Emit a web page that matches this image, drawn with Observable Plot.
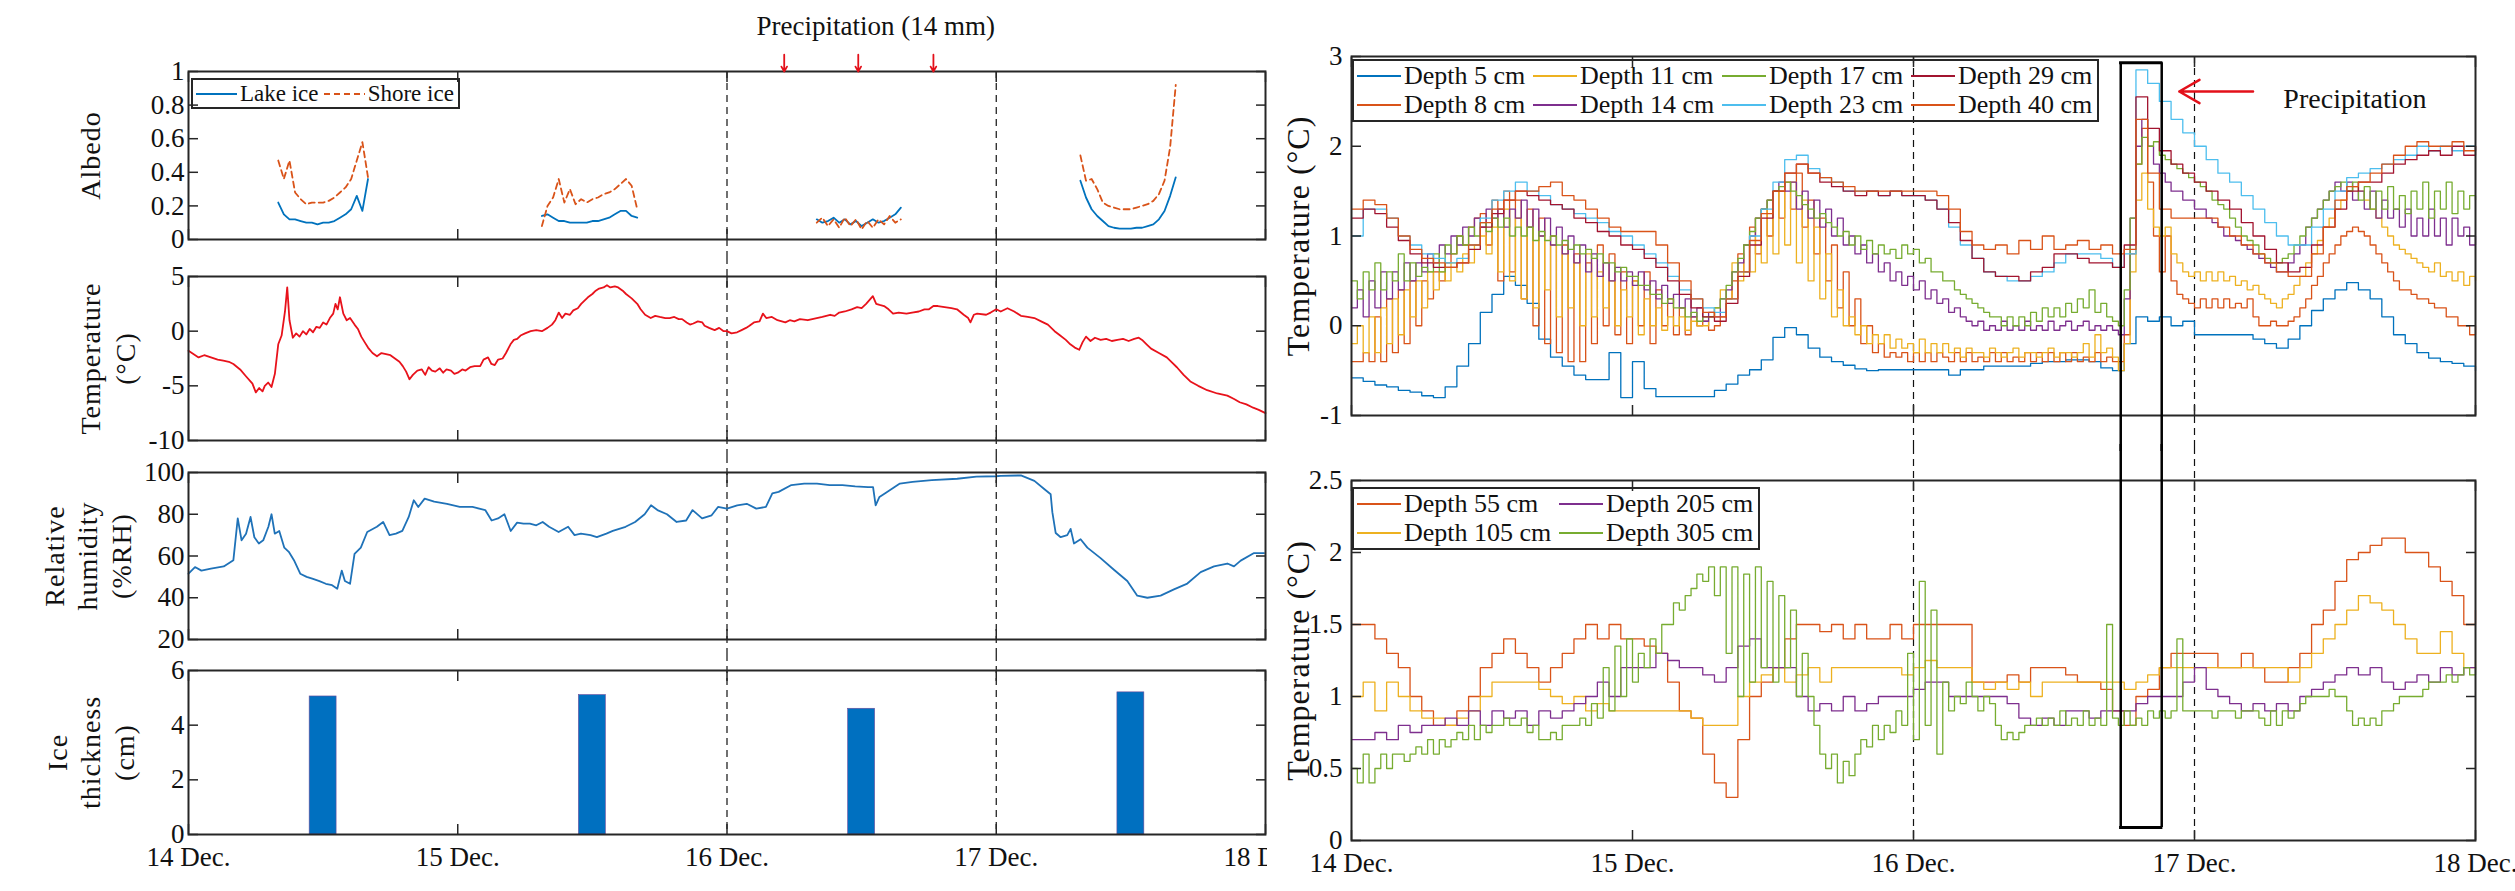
<!DOCTYPE html>
<html><head><meta charset="utf-8">
<script src="https://cdn.jsdelivr.net/npm/d3@7"></script>
<script src="https://cdn.jsdelivr.net/npm/@observablehq/plot@0.6"></script>
<style>
html,body{margin:0;padding:0;background:#fff;overflow:hidden;}
#fig{position:relative;width:2515px;height:891px;overflow:hidden;background:#fff;font-family:"Liberation Serif","Times New Roman",serif;color:#111;}
.legend{position:absolute;border:2px solid #262626;box-sizing:border-box;line-height:1;color:#111;}
.legend .item{display:flex;align-items:center;white-space:nowrap;}
.legend svg{margin-right:3px;flex:none;}
</style></head>
<body><div id="fig"></div>
<script>
// ---------------- shared axis data ----------------
const xTickHours = [0, 24, 48, 72, 96];
const xTickLabels = ["14 Dec.", "15 Dec.", "16 Dec.", "17 Dec.", "18 Dec."];
const dashHours = [48, 72];

// ---------------- left: albedo (half-hour samples per day) ----------------
const albedoStartHours = [8, 31.5, 56, 79.5];
const lakeIce = [
  [0.22,0.15,0.12,0.12,0.11,0.10,0.10,0.09,0.10,0.10,0.11,0.13,0.15,0.18,0.26,0.17,0.36],
  [0.14,0.15,0.13,0.11,0.11,0.10,0.10,0.10,0.10,0.11,0.11,0.12,0.13,0.15,0.17,0.17,0.14,0.13],
  [0.12,0.10,0.11,0.13,0.10,0.12,0.09,0.11,0.08,0.10,0.12,0.10,0.11,0.13,0.15,0.19],
  [0.35,0.25,0.18,0.14,0.11,0.08,0.07,0.065,0.065,0.065,0.07,0.07,0.08,0.09,0.12,0.17,0.26,0.37]
];
const shoreIce = [
  [0.47,0.36,0.47,0.28,0.24,0.21,0.22,0.22,0.22,0.23,0.25,0.28,0.31,0.36,0.47,0.58,0.37],
  [0.08,0.20,0.25,0.36,0.22,0.30,0.21,0.24,0.22,0.24,0.25,0.27,0.28,0.30,0.33,0.36,0.32,0.18],
  [0.10,0.13,0.08,0.12,0.07,0.13,0.08,0.12,0.06,0.11,0.07,0.12,0.09,0.14,0.10,0.12],
  [0.50,0.35,0.36,0.30,0.22,0.20,0.19,0.18,0.18,0.18,0.19,0.20,0.21,0.23,0.27,0.35,0.55,0.92]
];
const precipTotalLabel = "Precipitation (14 mm)";
const precipArrowHours = [53.1, 59.7, 66.4];

// ---------------- left: air temperature [hour, °C] ----------------
const airTemp = [
[0,-1.8],[0.9,-2.4],[1.4,-2.2],[2,-2.4],[2.6,-2.6],[3.1,-2.7],[3.6,-2.8],[4,-3.0],[4.6,-3.5],[5.1,-4.1],[5.7,-4.8],[6,-5.6],
[6.3,-5.2],[6.6,-5.5],[6.8,-5.0],[7.1,-4.7],[7.4,-5.1],[7.7,-3.9],[8,-1.2],[8.3,-0.4],[8.6,1.8],[8.8,4.0],[9.0,1.0],[9.3,-0.6],
[9.6,-0.2],[9.9,-0.5],[10.2,0.0],[10.5,-0.3],[10.8,0.2],[11.1,-0.1],[11.4,0.4],[11.7,0.3],[12.0,0.8],[12.3,0.6],[12.6,1.2],[12.9,1.6],
[13.1,2.5],[13.3,2.0],[13.5,3.1],[13.8,1.6],[14.1,1.0],[14.4,1.2],[14.8,0.6],[15.1,0.2],[15.4,-0.5],[15.7,-1.0],[16.0,-1.5],[16.4,-2.0],
[16.8,-2.3],[17.2,-2.0],[17.6,-2.1],[18.0,-2.2],[18.4,-2.5],[18.8,-2.8],[19.1,-3.2],[19.4,-3.7],[19.7,-4.4],[20.0,-4.0],[20.4,-3.6],[20.8,-3.5],
[21.1,-4.0],[21.4,-3.3],[21.7,-3.6],[22.0,-3.7],[22.4,-3.4],[22.7,-3.8],[23.0,-3.5],[23.4,-3.6],[23.7,-3.9],[24.0,-3.8],[24.4,-3.5],[24.7,-3.6],
[25.1,-3.3],[25.5,-3.2],[26.0,-3.2],[26.3,-2.6],[26.7,-2.4],[27.0,-3.0],[27.3,-3.1],[27.6,-2.6],[28.0,-2.5],[28.3,-2.0],[28.7,-1.2],[29.0,-0.8],
[29.3,-0.7],[29.6,-0.4],[30.0,-0.2],[30.5,0.0],[31.0,0.1],[31.5,0.0],[32.0,0.3],[32.4,0.6],[32.7,1.0],[33.0,1.7],[33.3,1.2],[33.6,1.6],
[34.0,1.5],[34.3,1.9],[34.7,2.1],[35.0,2.5],[35.3,2.8],[35.6,3.1],[36.0,3.4],[36.3,3.7],[36.6,3.9],[37.0,4.0],[37.3,4.2],[37.6,4.0],
[38.0,4.1],[38.3,4.0],[38.7,3.7],[39.0,3.4],[39.5,3.0],[40.0,2.5],[40.3,2.0],[40.7,1.5],[41.2,1.2],[41.6,1.4],[42.0,1.3],[42.5,1.2],
[42.9,1.2],[43.3,1.3],[43.7,1.1],[44.0,1.1],[44.4,0.8],[44.7,0.6],[45.0,0.7],[45.4,0.9],[45.8,0.8],[46.0,0.5],[46.4,0.3],[46.9,0.1],
[47.3,0.3],[47.7,0.0],[48.0,0.0],[48.4,-0.2],[48.9,-0.1],[49.3,0.1],[49.7,0.3],[50.0,0.5],[50.4,0.8],[50.9,0.9],[51.2,1.6],[51.5,1.2],
[52.0,1.3],[52.5,1.0],[53.2,0.8],[53.6,1.0],[54.0,0.9],[54.5,1.1],[55.2,1.0],[55.6,1.1],[56.0,1.2],[56.5,1.3],[57.2,1.5],[57.6,1.4],
[58.0,1.7],[58.5,1.8],[59.1,2.0],[59.6,2.2],[60.0,2.1],[60.4,2.5],[61.0,3.2],[61.3,2.5],[61.6,2.4],[62.0,2.3],[62.4,2.0],[62.8,1.6],
[63.3,1.7],[64.0,1.6],[64.5,1.7],[65.1,1.8],[65.6,2.0],[66.0,2.0],[66.4,2.3],[66.8,2.3],[67.4,2.2],[68.0,2.1],[68.5,2.0],[69.1,1.5],
[69.5,1.2],[69.7,0.8],[70.0,1.5],[70.3,1.6],[71.1,1.5],[71.5,1.7],[72.0,2.0],[72.4,1.8],[73.0,2.1],[73.6,1.8],[74.2,1.4],[74.8,1.3],
[75.4,1.2],[76.0,0.9],[76.6,0.6],[77.2,0.0],[77.7,-0.4],[78.2,-0.8],[78.6,-1.2],[79.0,-1.5],[79.4,-1.7],[79.7,-1.0],[80.0,-0.5],[80.4,-0.9],
[80.8,-0.6],[81.3,-0.8],[81.8,-0.7],[82.3,-0.9],[82.8,-0.8],[83.3,-0.7],[83.8,-0.9],[84.3,-0.7],[84.7,-0.6],[85.0,-0.8],[85.4,-1.2],[85.8,-1.6],
[86.5,-2.0],[87.2,-2.4],[87.7,-2.9],[88.1,-3.3],[88.7,-4.0],[89.3,-4.6],[90.0,-5.0],[90.8,-5.4],[91.7,-5.7],[92.6,-5.9],[93.2,-6.2],[93.7,-6.5],
[94.3,-6.7],[94.9,-7.0],[95.4,-7.2],[96.0,-7.5]
];

// ---------------- left: relative humidity [hour, %RH] ----------------
const relHumidity = [
[0,51.5],[0.58,54.7],[1.15,53],[2.0,54],[3.14,55],[4.0,58],[4.39,78],[4.73,67.5],[5.13,70.7],[5.53,78.7],[5.87,69],[6.27,66],
[6.66,67.5],[7.12,74],[7.40,80],[7.69,70.7],[8.09,72],[8.54,64],[8.94,62],[9.40,58],[9.96,51.5],[10.53,50],[11.1,49],[11.67,48],
[12.24,46.7],[12.8,46],[13.26,44.3],[13.66,53],[13.94,48],[14.4,46.7],[14.8,61],[15.36,64],[15.93,71.5],[16.79,74],[17.35,76.3],[17.92,70],
[18.49,70.7],[19.06,72],[19.63,78.7],[20.08,86.7],[20.48,83.5],[21.05,87.5],[21.9,86],[23.04,85],[24.18,83.5],[25.31,83.5],[26.45,82],[27.02,77],
[27.59,78],[28.16,80],[28.72,72],[29.29,76],[29.86,75.5],[30.43,75.5],[31.0,74.7],[31.57,76.3],[32.14,74],[32.99,71.5],[33.84,74],[34.41,70],
[34.98,70.7],[35.83,70],[36.4,69],[37.25,70.7],[37.82,72],[38.96,74],[39.81,76.3],[40.66,80],[41.23,84.3],[41.8,82],[42.65,80],[43.51,76.3],
[44.36,77],[44.93,82],[45.78,78],[46.63,79.5],[47.2,83.5],[48.0,82.7],[48.91,84.3],[49.76,85],[50.61,82.7],[51.47,83.5],[52.04,90],[52.6,90.7],
[53.74,94],[54.88,94.7],[56.02,94.7],[57.15,94],[58.29,94],[59.43,93.4],[60.57,93],[61.02,93],[61.25,84.3],[61.59,88.3],[62.27,90.7],[63.41,94.7],
[64.54,95.5],[66.25,96.3],[68.52,97],[70.23,98],[71.99,98.2],[72.39,98.4],[74.2,98.6],[75.4,96],[76.3,92],[76.85,89.6],[77.0,81],[77.3,71],
[77.74,69],[78.33,70],[78.63,73],[78.93,66],[79.52,68],[80.12,64],[81.3,59],[82.49,53.4],[83.68,48],[84.57,41],[85.47,40],[86.65,41],
[87.84,44],[89.03,46.8],[90.22,52.3],[91.41,55],[92.6,56.4],[93.19,55],[93.79,57.8],[94.98,61.4],[95.87,61.4]
];

// ---------------- left: ice thickness ----------------
const iceHours = [12, 36, 60, 84];
const iceThickness = [5.05, 5.1, 4.6, 5.2];

// ---------------- right top: ice/water temperatures ----------------
const depthTopLabels = ["Depth 5 cm","Depth 8 cm","Depth 11 cm","Depth 14 cm","Depth 17 cm","Depth 23 cm","Depth 29 cm","Depth 40 cm"];
const depthTopColors = ["#0072BD","#D95319","#EDB120","#7E2F8E","#77AC30","#4DBEEE","#A2142F","#D95319"];
const depthTopStepHours = [1, 0.5, 0.5, 0.5, 0.5, 1, 1, 1];
const depth5 = [
-0.58,-0.62,-0.66,-0.68,-0.72,-0.74,-0.78,-0.8,-0.68,-0.45,-0.2,0.15,
0.35,0.55,0.45,0.25,-0.15,-0.35,-0.45,-0.55,-0.6,-0.6,-0.3,-0.8,
-0.4,-0.7,-0.79,-0.79,-0.79,-0.79,-0.79,-0.72,-0.65,-0.55,-0.49,-0.38,
-0.13,-0.02,-0.1,-0.25,-0.35,-0.4,-0.44,-0.48,-0.5,-0.49,-0.49,-0.49,
-0.49,-0.49,-0.49,-0.55,-0.49,-0.49,-0.45,-0.45,-0.45,-0.45,-0.42,-0.4,
-0.4,-0.38,-0.38,-0.4,-0.47,-0.5,-0.2,0.1,0.05,0.1,0.0,0.05,
-0.1,-0.1,-0.1,-0.1,-0.1,-0.15,-0.2,-0.25,-0.15,0.0,0.17,0.3,
0.4,0.48,0.4,0.3,0.1,-0.1,-0.2,-0.3,-0.36,-0.4,-0.42,-0.45,
-0.5];
const depth8 = [
-0.4,-0.4,-0.3,-0.4,0.1,-0.4,0.3,-0.3,0.4,-0.2,0.5,0.0,0.5,0.3,0.6,0.5,0.7,0.8,1.0,0.9,1.1,1.2,1.25,0.9,
1.4,0.5,1.5,0.6,1.4,0.3,1.3,0.0,1.2,-0.2,1.0,-0.3,0.9,-0.4,0.8,-0.4,0.7,-0.2,0.9,0.0,0.8,-0.1,0.6,-0.2,
0.5,0.0,0.6,-0.2,0.4,0.0,0.3,-0.1,0.2,-0.1,0.1,0.0,0.05,-0.05,0.0,0.1,0.3,0.5,0.8,0.6,1.1,0.8,1.3,1.0,
1.5,1.2,1.6,1.3,1.7,1.1,1.4,0.8,1.2,0.5,0.9,0.2,0.6,0.0,0.3,-0.2,0.0,-0.3,-0.2,-0.35,-0.3,-0.35,-0.3,-0.4,
-0.3,-0.4,-0.3,-0.4,-0.3,-0.35,-0.4,-0.3,-0.4,-0.3,-0.4,-0.35,-0.4,-0.3,-0.4,-0.3,-0.4,-0.35,-0.4,-0.3,-0.4,-0.3,-0.4,-0.3,
-0.4,-0.3,-0.4,-0.3,-0.4,-0.35,-0.4,-0.3,-0.4,-0.35,-0.4,-0.4,-0.1,0.8,1.8,2.2,1.6,1.0,0.6,1.0,0.5,0.35,0.3,0.25,
0.2,0.3,0.2,0.3,0.2,0.3,0.2,0.25,0.2,0.3,0.1,0.0,0.0,0.05,0.0,0.0,0.05,0.1,0.2,0.3,0.45,0.55,0.7,0.8,
0.9,1.0,1.05,1.1,1.05,1.0,0.9,0.8,0.7,0.6,0.5,0.4,0.4,0.35,0.3,0.3,0.25,0.2,0.2,0.1,0.1,0.0,0.0,-0.1,
0.0];
const depth11 = [
-0.2,0.0,-0.3,0.1,-0.3,0.2,-0.2,0.3,-0.1,0.4,0.1,0.5,0.2,0.6,0.4,0.6,0.5,0.7,0.6,0.8,0.7,0.9,1.0,0.8,
1.1,0.6,1.3,0.5,1.2,0.3,1.1,0.2,1.0,0.4,0.9,0.1,0.8,0.2,0.7,0.0,0.8,0.1,0.6,0.2,0.5,0.0,0.4,0.1,
0.5,-0.1,0.3,0.0,0.2,-0.05,0.1,0.0,0.1,-0.05,0.05,0.0,0.0,0.1,0.2,0.4,0.3,0.7,0.5,0.9,0.6,1.2,0.7,1.4,
0.8,1.5,0.9,1.6,0.7,1.4,0.5,1.1,0.3,0.8,0.1,0.4,0.0,0.1,-0.1,0.0,-0.2,-0.1,-0.2,-0.1,-0.25,-0.15,-0.25,-0.2,
-0.3,-0.15,-0.3,-0.2,-0.3,-0.2,-0.3,-0.25,-0.35,-0.25,-0.3,-0.3,-0.35,-0.25,-0.3,-0.35,-0.3,-0.25,-0.35,-0.3,-0.3,-0.35,-0.3,-0.25,
-0.35,-0.3,-0.3,-0.35,-0.3,-0.2,-0.35,-0.1,-0.3,-0.25,-0.35,-0.5,-0.2,0.6,1.4,1.7,1.3,1.1,1.0,1.1,0.8,0.7,0.6,0.55,
0.6,0.5,0.6,0.5,0.6,0.5,0.55,0.45,0.5,0.4,0.45,0.35,0.3,0.25,0.2,0.3,0.35,0.45,0.55,0.7,0.8,0.95,1.1,1.2,
1.3,1.4,1.5,1.55,1.5,1.4,1.3,1.2,1.1,1.0,0.9,0.85,0.8,0.75,0.7,0.65,0.6,0.7,0.55,0.6,0.5,0.6,0.45,0.55,
0.5];
const depth14 = [
0.2,0.4,0.1,0.5,0.2,0.6,0.3,0.6,0.4,0.7,0.5,0.7,0.6,0.8,0.7,0.9,0.8,1.0,0.9,1.1,1.0,1.2,1.1,1.3,
1.2,1.3,1.1,1.3,1.2,1.4,1.1,1.3,1.0,1.2,0.9,1.1,0.8,1.0,0.7,0.9,0.6,0.8,0.55,0.7,0.5,0.65,0.5,0.6,
0.45,0.6,0.4,0.5,0.3,0.45,0.25,0.35,0.2,0.3,0.1,0.2,0.05,0.15,0.1,0.3,0.4,0.6,0.7,0.9,1.0,1.2,1.3,1.4,
1.5,1.6,1.5,1.6,1.3,1.5,1.2,1.4,1.1,1.3,1.0,1.2,0.9,1.0,0.8,0.9,0.7,0.8,0.6,0.7,0.5,0.6,0.45,0.55,
0.4,0.5,0.3,0.4,0.25,0.3,0.15,0.2,0.1,0.05,0.0,0.05,-0.05,0.0,-0.05,0.05,-0.05,0.0,-0.05,0.05,-0.05,0.0,-0.05,0.05,
-0.05,0.0,0.05,-0.05,0.0,0.05,-0.05,0.0,-0.05,0.0,-0.05,-0.1,0.3,1.2,2.0,2.3,2.0,1.8,1.7,1.6,1.5,1.5,1.4,1.4,
1.3,1.3,1.2,1.15,1.1,1.0,1.0,0.95,0.9,0.85,0.8,0.75,0.7,0.65,0.6,0.6,0.7,0.8,0.9,1.1,1.2,1.3,1.4,1.5,
1.6,1.5,1.6,1.4,1.5,1.3,1.5,1.2,1.4,1.2,1.3,1.1,1.3,1.0,1.2,1.0,1.3,1.0,1.2,0.9,1.2,1.0,1.1,0.9,
1.0];
const depth17 = [
0.5,0.3,0.6,0.4,0.7,0.4,0.6,0.5,0.8,0.5,0.7,0.55,0.65,0.6,0.8,0.6,0.9,0.8,1.0,0.9,1.1,1.0,1.15,1.05,
1.2,1.1,1.2,1.0,1.1,1.0,1.1,0.95,1.05,0.95,1.0,0.9,0.95,0.85,0.9,0.8,0.85,0.75,0.8,0.7,0.7,0.6,0.65,0.55,
0.55,0.45,0.45,0.35,0.35,0.25,0.3,0.2,0.2,0.1,0.15,0.05,0.1,0.1,0.2,0.3,0.45,0.6,0.75,0.9,1.05,1.2,1.3,1.4,
1.5,1.55,1.6,1.5,1.45,1.35,1.3,1.2,1.25,1.15,1.1,1.0,1.05,0.9,1.0,0.85,0.95,0.8,0.9,0.8,0.85,0.75,0.9,0.8,
0.85,0.7,0.75,0.6,0.6,0.5,0.5,0.4,0.35,0.3,0.25,0.2,0.15,0.1,0.1,0.0,0.1,0.0,0.1,0.0,0.15,0.05,0.2,0.1,
0.2,0.1,0.25,0.15,0.3,0.2,0.4,0.15,0.25,0.1,0.05,0.0,0.4,1.2,1.8,2.1,2.0,2.05,1.9,1.85,1.8,1.75,1.7,1.65,
1.6,1.55,1.5,1.4,1.35,1.3,1.2,1.1,1.0,0.95,0.9,0.8,0.75,0.7,0.7,0.75,0.8,0.9,1.0,1.1,1.2,1.3,1.4,1.5,
1.55,1.6,1.5,1.6,1.4,1.55,1.3,1.5,1.3,1.55,1.3,1.45,1.25,1.5,1.3,1.6,1.2,1.5,1.3,1.6,1.25,1.5,1.3,1.45,
1.4];
const depth23 = [
1.0,1.3,1.3,1.2,1.0,0.9,0.8,0.75,0.7,0.75,0.9,1.2,
1.4,1.5,1.6,1.5,1.45,1.35,1.3,1.25,1.2,1.15,1.05,1.0,
0.9,0.8,0.7,0.55,0.4,0.3,0.2,0.15,0.3,0.6,1.0,1.3,
1.6,1.85,1.9,1.75,1.65,1.6,1.5,1.5,1.5,1.45,1.5,1.45,
1.45,1.4,1.3,1.1,0.9,0.75,0.6,0.55,0.5,0.5,0.55,0.6,
0.7,0.8,0.8,0.8,0.75,0.65,0.8,2.85,2.7,2.5,2.3,2.15,
2.0,1.85,1.7,1.6,1.45,1.3,1.15,1.0,0.9,0.9,1.1,1.3,
1.5,1.65,1.7,1.75,1.8,1.85,1.9,2.0,1.95,2.0,1.95,2.0,
1.95];
const depth29 = [
1.2,1.3,1.25,1.1,0.95,0.8,0.7,0.65,0.65,0.7,0.85,1.1,
1.25,1.4,1.5,1.45,1.4,1.35,1.3,1.2,1.15,1.05,1.0,0.9,
0.85,0.75,0.65,0.5,0.35,0.2,0.1,0.05,0.25,0.55,0.9,1.2,
1.5,1.7,1.8,1.7,1.6,1.55,1.5,1.45,1.5,1.45,1.5,1.45,
1.45,1.4,1.3,1.15,0.95,0.75,0.6,0.55,0.55,0.5,0.6,0.65,
0.8,0.8,0.75,0.7,0.7,0.65,0.9,2.55,2.2,1.95,1.8,1.7,
1.6,1.5,1.4,1.3,1.15,1.0,0.85,0.7,0.6,0.65,0.9,1.1,
1.3,1.5,1.6,1.6,1.7,1.8,1.85,1.9,1.95,1.9,2.0,1.9,
2.0];
const depth40 = [
1.3,1.4,1.35,1.2,1.0,0.85,0.75,0.7,0.65,0.7,0.9,1.15,
1.3,1.4,1.5,1.5,1.55,1.6,1.45,1.4,1.3,1.2,1.1,1.05,
1.05,1.05,0.9,0.7,0.5,0.3,0.15,0.1,0.3,0.6,0.95,1.25,
1.5,1.7,1.8,1.7,1.65,1.6,1.55,1.5,1.5,1.5,1.5,1.5,
1.5,1.5,1.45,1.3,1.05,0.9,0.85,0.9,0.8,0.95,0.85,1.0,
0.85,0.9,0.95,0.85,0.9,0.8,0.85,2.3,1.7,1.3,1.2,1.2,
1.2,1.2,1.1,1.0,0.9,0.8,0.7,0.6,0.55,0.55,0.8,1.1,
1.4,1.55,1.6,1.7,1.8,1.9,2.0,2.05,2.0,2.0,2.05,1.95,
2.0];
const depthTopSeries = [depth5, depth8, depth11, depth14, depth17, depth23, depth29, depth40];

// ---------------- right bottom: deeper temperatures ----------------
const depthBotLabels = ["Depth 55 cm","Depth 105 cm","Depth 205 cm","Depth 305 cm"];
const depthBotColors = ["#D95319","#EDB120","#7E2F8E","#77AC30"];
const depthBotStepHours = [1, 1, 1, 0.5];
const depth55 = [
1.5,1.5,1.4,1.3,1.2,1.0,0.9,0.8,0.8,0.9,1.0,1.2,
1.3,1.4,1.3,1.2,1.1,1.2,1.3,1.4,1.5,1.4,1.5,1.4,
1.4,1.35,1.3,1.1,0.9,0.85,0.6,0.4,0.3,0.7,1.0,1.1,
1.2,1.4,1.5,1.5,1.45,1.5,1.4,1.5,1.4,1.4,1.5,1.4,
1.5,1.5,1.5,1.5,1.5,1.1,1.1,1.1,1.15,1.1,1.2,1.2,
1.2,1.15,1.1,1.1,1.05,0.9,0.8,1.0,1.05,1.2,1.3,1.3,
1.3,1.3,1.2,1.2,1.3,1.2,1.1,1.1,1.2,1.3,1.5,1.6,
1.8,1.95,2.0,2.05,2.1,2.1,2.0,2.0,1.9,1.8,1.7,1.5,
1.6];
const depth105 = [
1.0,1.1,0.9,1.1,1.0,0.9,0.85,0.85,0.8,0.85,0.9,1.0,
1.1,1.1,1.1,1.1,1.05,1.0,0.95,1.0,0.9,0.95,0.9,0.9,
0.9,0.9,0.9,0.9,0.9,0.85,0.8,0.8,0.8,1.0,1.1,1.15,
1.2,1.1,1.15,1.2,1.1,1.2,1.2,1.2,1.2,1.2,1.2,1.15,
1.2,1.25,1.2,1.2,1.2,1.1,1.05,1.1,1.05,1.1,1.0,1.1,
1.1,1.1,1.1,1.1,1.1,1.1,1.05,1.1,1.15,1.2,1.2,1.2,
1.2,1.2,1.2,1.2,1.2,1.2,1.2,1.2,1.1,1.2,1.3,1.4,
1.5,1.6,1.7,1.65,1.6,1.5,1.4,1.3,1.3,1.45,1.3,1.2,
1.25];
const depth205 = [
0.7,0.7,0.75,0.7,0.8,0.75,0.8,0.8,0.85,0.8,0.9,0.8,
0.9,0.85,0.9,0.8,0.9,0.85,0.9,0.95,1.0,1.1,1.0,1.2,
1.2,1.2,1.3,1.25,1.2,1.2,1.15,1.1,1.2,1.35,1.4,1.2,
1.2,1.2,1.0,0.9,0.95,0.9,1.0,0.9,0.95,1.0,1.0,1.0,
1.05,1.1,1.1,1.0,1.0,1.0,1.0,1.0,0.95,0.85,0.8,0.85,
0.8,0.9,0.9,0.85,0.9,0.9,0.9,0.95,1.0,1.0,1.0,1.1,
1.2,1.05,1.0,0.95,0.9,0.95,0.9,0.95,0.9,1.0,1.05,1.1,
1.15,1.2,1.15,1.2,1.1,1.05,1.1,1.15,1.1,1.2,1.15,1.2,
1.2];
const depth305 = [
0.5,0.4,0.6,0.4,0.5,0.6,0.5,0.6,0.6,0.55,0.6,0.65,0.6,0.7,0.6,0.7,0.65,0.7,0.75,0.7,0.8,0.7,0.8,0.75,
0.8,0.8,0.85,0.8,0.8,0.85,0.75,0.8,0.7,0.7,0.75,0.7,0.8,0.8,0.8,0.85,0.8,0.95,0.85,1.2,0.9,1.35,1.0,1.4,
1.1,1.3,1.2,1.4,1.3,1.5,1.5,1.65,1.6,1.7,1.75,1.85,1.8,1.9,1.7,1.9,1.3,1.9,1.0,1.85,1.1,1.9,1.2,1.8,
1.1,1.7,1.2,1.6,1.0,1.3,1.0,0.8,0.6,0.5,0.6,0.4,0.55,0.45,0.6,0.7,0.65,0.8,0.7,0.8,0.75,0.9,0.8,1.3,
0.7,1.8,0.8,1.6,0.6,1.1,0.9,1.0,0.95,1.1,1.0,0.9,1.0,0.95,0.8,0.7,0.75,0.7,0.75,0.8,0.8,0.85,0.8,0.85,
0.8,0.9,0.8,0.85,0.8,0.9,0.8,0.85,0.8,1.5,0.85,0.8,0.9,0.8,0.85,0.8,0.9,0.85,0.9,0.85,0.9,1.4,0.9,0.9,
0.9,0.9,0.9,0.85,0.9,0.9,0.9,0.85,0.9,0.9,0.9,0.85,0.8,0.9,0.8,0.9,0.85,0.9,0.95,1.0,1.0,1.0,1.0,1.05,
1.0,1.0,0.9,0.8,0.85,0.8,0.85,0.8,0.9,0.9,0.95,1.0,1.0,1.0,1.0,1.05,1.1,1.1,1.1,1.15,1.1,1.15,1.2,1.15,
1.2];
const depthBotSeries = [depth55, depth105, depth205, depth305];

const precipLabel = "Precipitation";
const precipBoxHours = [65.7, 69.2];

// ---------------- drawing ----------------
const FONT = '"Liberation Serif", "Times New Roman", serif';
const INK = "#262626";
const TICK_FONT = 27;
const fig = document.getElementById("fig");
const fmt = d => String(d);

function mount(svg, left, top, w, clip) {
  const d = document.createElement("div");
  d.style.cssText = `position:absolute;left:${left}px;top:${top}px;width:${w}px;`;
  svg.style.overflow = clip ? "hidden" : "visible";
  svg.style.maxWidth = "none";
  svg.querySelectorAll("text").forEach(t => {
    const tr = t.getAttribute("transform") || "";
    if (tr.includes("rotate")) t.setAttribute("letter-spacing", "1");
  });
  d.appendChild(svg);
  fig.appendChild(d);
}

function frameAxes(yTicks, padY, withLabels) {
  const m = [
    Plot.frame({stroke: INK, strokeWidth: 2}),
    Plot.axisY(yTicks, {anchor: "left", tickSize: 0, tickPadding: padY, tickFormat: fmt, label: null, fontSize: TICK_FONT}),
    Plot.axisY(yTicks, {anchor: "left", tickSize: -10, tickFormat: () => "", label: null, stroke: INK, strokeWidth: 1.5}),
    Plot.axisY(yTicks, {anchor: "right", tickSize: -10, tickFormat: () => "", label: null, stroke: INK, strokeWidth: 1.5}),
    Plot.axisX(xTickHours, {anchor: "bottom", tickSize: -10, tickFormat: () => "", label: null, stroke: INK, strokeWidth: 1.5}),
    Plot.axisX(xTickHours, {anchor: "top", tickSize: -10, tickFormat: () => "", label: null, stroke: INK, strokeWidth: 1.5})
  ];
  if (withLabels) m.push(Plot.axisX(xTickHours, {anchor: "bottom", tickSize: 0, tickPadding: 12, label: null, fontSize: TICK_FONT,
    tickFormat: d => xTickLabels[xTickHours.indexOf(d)]}));
  return m;
}

function yTitle(title, dx, size, lh) {
  return Plot.text([title], {frameAnchor: "left", textAnchor: "middle", lineAnchor: "middle", rotate: -90, dx,
    text: d => d, fontSize: size, lineHeight: lh, fill: "#111"});
}

function dashes(insetTop, insetBottom) {
  return Plot.ruleX(dashHours, {stroke: "#111", strokeWidth: 1.2, strokeDasharray: "7,5", insetTop, insetBottom});
}

const baseStyle = {fontFamily: FONT, fontSize: "26px", background: "transparent", color: "#111", overflow: "visible"};

// ---- Albedo ----
const lakeRows = [], shoreRows = [];
albedoStartHours.forEach((s, d) => {
  lakeIce[d].forEach((v, i) => lakeRows.push({h: s + i * 0.5, v, day: d}));
  shoreIce[d].forEach((v, i) => shoreRows.push({h: s + i * 0.5, v, day: d}));
});
const LW = 1267, LML = 188;
mount(Plot.plot({
  width: LW, height: 257, marginLeft: LML, marginRight: 2, marginTop: 71, marginBottom: 18,
  style: baseStyle,
  x: {domain: [0, 96]}, y: {domain: [0, 1]},
  marks: [
    dashes(0, -18),
    Plot.line(lakeRows, {x: "h", y: "v", z: "day", stroke: "#0072BD", strokeWidth: 1.8}),
    Plot.line(shoreRows, {x: "h", y: "v", z: "day", stroke: "#D95319", strokeWidth: 1.8, strokeDasharray: "6,4"}),
    ...frameAxes([0, 0.2, 0.4, 0.6, 0.8, 1], 4, false),
    yTitle("Albedo", 89 - LML, 28, 1.2),
    Plot.text([precipTotalLabel], {x: 61.25, y: 1.27, text: d => d, fontSize: 27, fill: "#111"}),
    Plot.arrow(precipArrowHours, {x1: d => d, x2: d => d, y1: 1.1, y2: 1.0, stroke: "#e3101a", strokeWidth: 1.8, headLength: 9})
  ]
}), 0, 0, LW);

// ---- Air temperature ----
mount(Plot.plot({
  width: LW, height: 199, marginLeft: LML, marginRight: 2, marginTop: 19, marginBottom: 16,
  style: baseStyle,
  x: {domain: [0, 96]}, y: {domain: [-10, 5]},
  marks: [
    dashes(-19, -16),
    Plot.line(airTemp, {x: d => d[0], y: d => d[1], stroke: "#e8121b", strokeWidth: 1.8}),
    ...frameAxes([-10, -5, 0, 5], 4, false),
    yTitle("Temperature\n(°C)", 106 - LML, 28, 1.25)
  ]
}), 0, 257, LW);

// ---- Relative humidity ----
mount(Plot.plot({
  width: LW, height: 198, marginLeft: LML, marginRight: 2, marginTop: 16, marginBottom: 15,
  style: baseStyle,
  x: {domain: [0, 96]}, y: {domain: [20, 100]},
  marks: [
    dashes(-16, -15),
    Plot.line(relHumidity, {x: d => d[0], y: d => d[1], stroke: "#1f72b8", strokeWidth: 1.8}),
    ...frameAxes([20, 40, 60, 80, 100], 4, false),
    yTitle("Relative\nhumidity\n(%RH)", 86 - LML, 28, 1.2)
  ]
}), 0, 456, LW);

// ---- Ice thickness ----
const iceRows = iceHours.map((h, i) => ({h, v: iceThickness[i]}));
mount(Plot.plot({
  width: LW, height: 237, marginLeft: LML, marginRight: 2, marginTop: 16, marginBottom: 57,
  style: baseStyle,
  x: {domain: [0, 96]}, y: {domain: [0, 6]},
  marks: [
    dashes(-16, 0),
    Plot.rectY(iceRows, {x1: d => d.h - 1.2, x2: d => d.h + 1.2, y1: 0, y2: "v", fill: "#0070C0", stroke: "#6a4a9a", strokeWidth: 0.6}),
    ...frameAxes([0, 2, 4, 6], 4, true),
    yTitle("Ice\nthickness\n(cm)", 89 - LML, 28, 1.2)
  ]
}), 0, 654, LW, true);

// ---- Right top ----
const RL = 1270, RW = 1245, RML = 81, RMR = 40;
const topMarks = depthTopSeries.map((s, k) => Plot.line(s.map((v, i) => ({h: i * depthTopStepHours[k], v})),
  {x: "h", y: "v", stroke: depthTopColors[k], strokeWidth: 1.3, curve: "step-after"}));
mount(Plot.plot({
  width: RW, height: 447, marginLeft: RML, marginRight: RMR, marginTop: 56, marginBottom: 32,
  style: baseStyle,
  x: {domain: [0, 96]}, y: {domain: [-1, 3]},
  marks: [
    dashes(0, -32),
    ...topMarks,
    ...frameAxes([-1, 0, 1, 2, 3], 9, false),
    Plot.ruleX(precipBoxHours, {y1: 2.93, y2: -1.4, stroke: "#000", strokeWidth: 2.5}),
    Plot.ruleY([2.93], {x1: precipBoxHours[0] - 0.1, x2: precipBoxHours[1] + 0.1, stroke: "#000", strokeWidth: 3}),
    Plot.arrow([precipLabel], {x1: 77.0, x2: 70.7, y1: 2.61, y2: 2.61, stroke: "#e3101a", strokeWidth: 2.5, headLength: 14}),
    Plot.text([precipLabel], {x: 85.7, y: 2.53, text: d => d, fontSize: 28, fill: "#111"}),
    yTitle("Temperature (°C)", 1296 - (RL + RML), 32, 1.2)
  ]
}), RL, 0, RW);

// ---- Right bottom ----
const botMarks = depthBotSeries.map((s, k) => Plot.line(s.map((v, i) => ({h: i * depthBotStepHours[k], v})),
  {x: "h", y: "v", stroke: depthBotColors[k], strokeWidth: 1.3, curve: "step-after"}));
mount(Plot.plot({
  width: RW, height: 444, marginLeft: RML, marginRight: RMR, marginTop: 33, marginBottom: 51,
  style: baseStyle,
  x: {domain: [0, 96]}, y: {domain: [0, 2.5]},
  marks: [
    dashes(-33, 0),
    ...botMarks,
    ...frameAxes([0, 0.5, 1, 1.5, 2, 2.5], 9, true),
    Plot.ruleX(precipBoxHours, {y1: 2.75, y2: 0.09, stroke: "#000", strokeWidth: 2.5}),
    Plot.ruleY([0.09], {x1: precipBoxHours[0] - 0.1, x2: precipBoxHours[1] + 0.1, stroke: "#000", strokeWidth: 3}),
    yTitle("Temperature (°C)", 1296 - (RL + RML), 32, 1.2)
  ]
}), RL, 447, RW);

// ---------------- legends ----------------
function legend({left, top, width, height, rows, fontSize, colGap, lineLen, items}) {
  const box = document.createElement("div");
  box.className = "legend";
  Object.assign(box.style, {
    left: left + "px", top: top + "px", width: width + "px", height: height + "px",
    display: "grid", gridTemplateRows: `repeat(${rows}, 1fr)`, gridAutoFlow: "column",
    columnGap: colGap + "px", padding: "0 3px", alignItems: "center", fontSize: fontSize + "px"
  });
  items.forEach(it => {
    const el = document.createElement("div");
    el.className = "item";
    el.innerHTML = `<svg width="${lineLen}" height="6"><line x1="0" x2="${lineLen}" y1="3" y2="3" stroke="${it.color}" stroke-width="1.8" ${it.dash ? `stroke-dasharray="${it.dash}"` : ""}/></svg>`;
    el.appendChild(document.createTextNode(it.label));
    box.appendChild(el);
  });
  fig.appendChild(box);
}
legend({left: 191, top: 78, width: 269, height: 31, rows: 1, fontSize: 23, colGap: 4, lineLen: 41,
  items: [{label: "Lake ice", color: "#0072BD"}, {label: "Shore ice", color: "#D95319", dash: "6,4"}]});
legend({left: 1352, top: 59, width: 747, height: 63, rows: 2, fontSize: 26, colGap: 6, lineLen: 44,
  items: depthTopLabels.map((label, k) => ({label, color: depthTopColors[k]}))});
legend({left: 1352, top: 487, width: 408, height: 63, rows: 2, fontSize: 26, colGap: 6, lineLen: 44,
  items: depthBotLabels.map((label, k) => ({label, color: depthBotColors[k]}))});
</script>
</body></html>
